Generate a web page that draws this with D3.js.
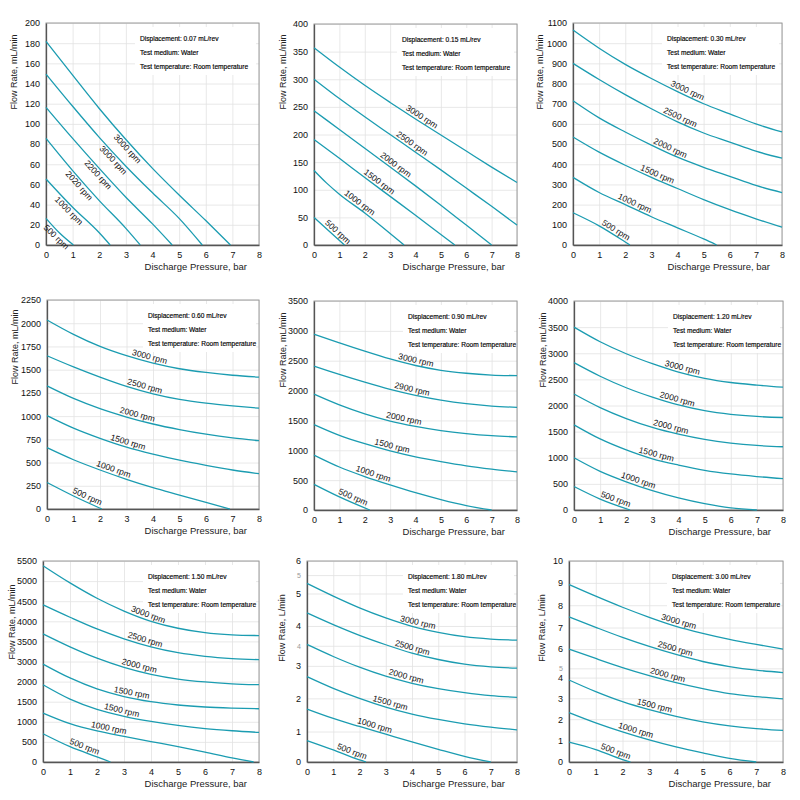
<!DOCTYPE html>
<html>
<head>
<meta charset="utf-8">
<script src="https://cdn.jsdelivr.net/npm/d3@7"></script>
<style>
  body { margin: 0; background: #fff; }
  svg { display: block; font-family: "Liberation Sans", Arial, sans-serif; }
</style>
</head>
<body>
<svg id="chart" width="800" height="800"></svg>
<script>
// pressure axis, shared by all panels
const pressureTicks = [0, 1, 2, 3, 4, 5, 6, 7, 8];
const displacements = ["0.07", "0.15", "0.30", "0.60", "0.90", "1.20", "1.50", "1.80", "3.00"];
const flowUnits = ["mL/min", "mL/min", "mL/min", "mL/min", "mL/min", "mL/min", "mL/min", "L/min", "L/min"];

// 0.07 mL/rev
const rpm1 = ["3000 rpm", "3000 rpm", "2200 rpm", "2020 rpm", "1000 rpm", "500 rpm"];
const flow1 = [
  [[0, 183.5], [1, 153], [2, 123], [3, 95], [4, 69], [5, 45], [6, 22], [6.93, 0]],
  [[0, 154], [1, 125], [2, 97], [3, 71], [4, 47], [5, 24], [5.87, 0]],
  [[0, 124], [1, 96], [2, 69], [3, 43], [4, 19], [4.74, 0]],
  [[0, 96], [1, 67], [2, 40], [3, 15], [3.54, 0]],
  [[0, 59.5], [1, 34], [2, 11], [2.41, 0]],
  [[0, 24], [0.5, 11], [1.03, 0]]
];
const yMax1 = 200;
const yText1 = ["0", "20", "40", "60", "60", "80", "100", "120", "140", "160", "180", "200"];

// 0.15 mL/rev
const rpm2 = ["3000 rpm", "2500 rpm", "2000 rpm", "1500 rpm", "1000 rpm", "500 rpm"];
const flow2 = [
  [[0, 357], [1, 322], [2, 289], [3, 258], [4, 228], [5, 199], [6, 170], [7, 141], [8, 113]],
  [[0, 300], [1, 265], [2, 232], [3, 200], [4, 168], [5, 136], [6, 103], [7, 70], [8, 36]],
  [[0, 243], [1, 209], [2, 175], [3, 141], [4, 107], [5, 72], [6, 36], [7, 0]],
  [[0, 191], [1, 157], [2, 122], [3, 88], [4, 54], [5, 19], [5.55, 0]],
  [[0, 135], [0.5, 112], [1, 92], [2, 58], [3, 21], [3.55, 0]],
  [[0, 50], [0.6, 25], [1.2, 0]]
];
const yMax2 = 400;
const yText2 = ["0", "50", "100", "150", "200", "250", "300", "350", "400"];

// 0.30 mL/rev
const rpm3 = ["3000 rpm", "2500 rpm", "2000 rpm", "1500 rpm", "1000 rpm", "500 rpm"];
const flow3 = [
  [[0, 1065], [1, 975], [2, 895], [3, 825], [4, 760], [5, 700], [6, 650], [7, 600], [8, 560]],
  [[0, 900], [1, 820], [2, 745], [3, 675], [4, 610], [5, 555], [6, 510], [7, 465], [8, 430]],
  [[0, 715], [1, 630], [2, 560], [3, 495], [4, 435], [5, 385], [6, 340], [7, 295], [8, 260]],
  [[0, 535], [1, 460], [2, 395], [3, 335], [4, 280], [5, 225], [6, 175], [7, 130], [8, 88]],
  [[0, 335], [1, 260], [2, 200], [3, 140], [4, 85], [5, 30], [5.5, 0]],
  [[0, 160], [1, 95], [2, 15], [2.18, 0]]
];
const yMax3 = 1100;
const yText3 = ["0", "100", "200", "300", "400", "500", "600", "700", "800", "900", "1000", "1100"];

// 0.60 mL/rev
const rpm4 = ["3000 rpm", "2500 rpm", "2000 rpm", "1500 rpm", "1000 rpm", "500 rpm"];
const flow4 = [
  [[0, 2035], [1, 1880], [2, 1750], [3, 1650], [4, 1570], [5, 1510], [6, 1470], [7, 1440], [8, 1420]],
  [[0, 1650], [1, 1530], [2, 1420], [3, 1320], [4, 1240], [5, 1180], [6, 1140], [7, 1110], [8, 1085]],
  [[0, 1325], [1, 1190], [2, 1080], [3, 990], [4, 915], [5, 855], [6, 805], [7, 765], [8, 735]],
  [[0, 1005], [1, 870], [2, 760], [3, 665], [4, 590], [5, 525], [6, 470], [7, 420], [8, 380]],
  [[0, 660], [1, 530], [2, 420], [3, 320], [4, 230], [5, 150], [6, 70], [6.9, 0]],
  [[0, 285], [1, 140], [2.07, 0]]
];
const yMax4 = 2250;
const yText4 = ["0", "250", "500", "750", "1000", "1250", "1500", "1750", "2000", "2250"];

// 0.90 mL/rev
const rpm5 = ["3000 rpm", "2900 rpm", "2000 rpm", "1500 rpm", "1000 rpm", "500 rpm"];
const flow5 = [
  [[0, 2945], [1, 2800], [2, 2660], [3, 2530], [4, 2420], [5, 2340], [6, 2290], [7, 2260], [8, 2250]],
  [[0, 2410], [1, 2270], [2, 2140], [3, 2020], [4, 1920], [5, 1840], [6, 1780], [7, 1740], [8, 1720]],
  [[0, 1940], [1, 1760], [2, 1610], [3, 1490], [4, 1400], [5, 1330], [6, 1280], [7, 1245], [8, 1225]],
  [[0, 1430], [1, 1250], [2, 1110], [3, 990], [4, 890], [5, 810], [6, 740], [7, 685], [8, 640]],
  [[0, 920], [1, 720], [2, 560], [3, 420], [4, 290], [5, 175], [6, 75], [7, 0]],
  [[0, 430], [1, 220], [2.2, 0]]
];
const yMax5 = 3500;
const yText5 = ["0", "500", "1000", "1500", "2000", "2500", "3000", "3500"];

// 1.20 mL/rev
const rpm6 = ["3000 rpm", "2000 rpm", "2000 rpm", "1500 rpm", "1000 rpm", "500 rpm"];
const flow6 = [
  [[0, 3500], [1, 3220], [2, 2990], [3, 2800], [4, 2640], [5, 2520], [6, 2440], [7, 2390], [8, 2350]],
  [[0, 2820], [1, 2560], [2, 2340], [3, 2160], [4, 2010], [5, 1900], [6, 1830], [7, 1790], [8, 1770]],
  [[0, 2220], [1, 1960], [2, 1750], [3, 1580], [4, 1450], [5, 1350], [6, 1280], [7, 1235], [8, 1210]],
  [[0, 1630], [1, 1360], [2, 1150], [3, 980], [4, 860], [5, 760], [6, 690], [7, 640], [8, 600]],
  [[0, 1000], [1, 740], [2, 540], [3, 370], [4, 230], [5, 120], [6, 40], [7, 0]],
  [[0, 450], [1, 210], [2.15, 0]]
];
const yMax6 = 4000;
const yText6 = ["0", "500", "1000", "1500", "2000", "2500", "3000", "3500", "4000"];

// 1.50 mL/rev
const rpm7 = ["3000 rpm", "2500 rpm", "2000 rpm", "1500 rpm", "1500 rpm", "1000 rpm", "500 rpm"];
const flow7 = [
  [[0, 5370], [1, 4900], [2, 4480], [3, 4130], [4, 3850], [5, 3660], [6, 3540], [7, 3480], [8, 3460]],
  [[0, 4300], [1, 3960], [2, 3640], [3, 3370], [4, 3150], [5, 2990], [6, 2890], [7, 2830], [8, 2800]],
  [[0, 3505], [1, 3150], [2, 2840], [3, 2590], [4, 2400], [5, 2270], [6, 2190], [7, 2140], [8, 2115]],
  [[0, 2680], [1, 2300], [2, 2000], [3, 1790], [4, 1650], [5, 1560], [6, 1505], [7, 1475], [8, 1457]],
  [[0, 2113], [1, 1720], [2, 1440], [3, 1250], [4, 1110], [5, 1000], [6, 915], [7, 855], [8, 810]],
  [[0, 1340], [1, 1050], [2, 850], [3, 700], [4, 560], [5, 420], [6, 270], [7, 110], [7.8, 0]],
  [[0, 774], [1, 420], [2, 140], [2.5, 0]]
];
const yMax7 = 5500;
const yText7 = ["0", "500", "1000", "1500", "2000", "3000", "3500", "4000", "4500", "5000", "5500"];

// 1.80 mL/rev
const rpm8 = ["3000 rpm", "2500 rpm", "2000 rpm", "1500 rpm", "1000 rpm", "500 rpm"];
const flow8 = [
  [[0, 5.33], [1, 4.95], [2, 4.6], [3, 4.3], [4, 4.05], [5, 3.87], [6, 3.74], [7, 3.67], [8, 3.64]],
  [[0, 4.45], [1, 4.1], [2, 3.78], [3, 3.5], [4, 3.25], [5, 3.06], [6, 2.92], [7, 2.84], [8, 2.8]],
  [[0, 3.51], [1, 3.15], [2, 2.83], [3, 2.56], [4, 2.35], [5, 2.19], [6, 2.07], [7, 1.98], [8, 1.93]],
  [[0, 2.55], [1, 2.2], [2, 1.9], [3, 1.64], [4, 1.43], [5, 1.27], [6, 1.14], [7, 1.04], [8, 0.96]],
  [[0, 1.58], [1, 1.3], [2, 1.06], [3, 0.83], [4, 0.6], [5, 0.38], [6, 0.17], [7, 0]],
  [[0, 0.64], [1, 0.36], [2, 0.06], [2.25, 0]]
];
const yMax8 = 6;
const yVals8 = [0, 0.91, 1.9, 2.87, 3.47, 4.06, 5.03, 5.58, 6];
const yText8 = ["0", "1", "2", "3", "4", "4", "5", "5", "6"];
const yFaint8 = [3.47, 5.58];

// 3.00 mL/rev
const rpm9 = ["3000 rpm", "2500 rpm", "2000 rpm", "1500 rpm", "1000 rpm", "500 rpm"];
const flow9 = [
  [[0, 8.83], [1, 8.25], [2, 7.7], [3, 7.2], [4, 6.75], [5, 6.4], [6, 6.1], [7, 5.85], [8, 5.62]],
  [[0, 7.22], [1, 6.7], [2, 6.2], [3, 5.75], [4, 5.35], [5, 5.0], [6, 4.75], [7, 4.57], [8, 4.45]],
  [[0, 5.62], [1, 5.15], [2, 4.7], [3, 4.3], [4, 3.95], [5, 3.65], [6, 3.4], [7, 3.25], [8, 3.14]],
  [[0, 4.08], [1, 3.5], [2, 3.0], [3, 2.6], [4, 2.27], [5, 2.0], [6, 1.8], [7, 1.66], [8, 1.57]],
  [[0, 2.46], [1, 1.95], [2, 1.5], [3, 1.1], [4, 0.75], [5, 0.45], [6, 0.18], [7, 0]],
  [[0, 0.99], [1, 0.62], [2, 0.12], [2.3, 0]]
];
const yMax9 = 10;
const yVals9 = [0, 1.06, 2.13, 3.17, 4.2, 4.66, 5.62, 6.69, 7.8, 8.91, 10];
const yText9 = ["0", "1", "2", "3", "4", "5", "6", "7", "8", "9", "10"];
const yFaint9 = [4.66];

// evenly spaced ticks for the panels that use them
const even = (max, n) => d3.range(n).map(i => i * max / (n - 1));

// layout: plot boxes, title / note positions, where each rpm label sits
const panels = [
  { rpm: rpm1, flow: flow1, yMax: yMax1, yVals: even(yMax1, 12), yText: yText1, faint: [],
    l: 46, r: 259, t: 23, b: 245, tx: 14, ty: 72, ax: 140, below: true, labelX: [3.2, 2.67, 2.1, 1.39, 1.0, 0.52] },
  { rpm: rpm2, flow: flow2, yMax: yMax2, yVals: even(yMax2, 9), yText: yText2, faint: [],
    l: 314, r: 517, t: 24, b: 245, tx: 283, ty: 72, ax: 402, labelX: [4.14, 3.75, 3.1, 2.45, 1.68, 0.8] },
  { rpm: rpm3, flow: flow3, yMax: yMax3, yVals: even(yMax3, 12), yText: yText3, faint: [],
    l: 573, r: 782, t: 23, b: 245, tx: 540, ty: 72, ax: 667, labelX: [4.3, 4.02, 3.64, 3.15, 2.28, 1.54] },
  { rpm: rpm4, flow: flow4, yMax: yMax4, yVals: even(yMax4, 10), yText: yText4, faint: [],
    l: 47, r: 259, t: 300, b: 509, tx: 15, ty: 347, ax: 148, labelX: [3.82, 3.64, 3.36, 3.0, 2.45, 1.44] },
  { rpm: rpm5, flow: flow5, yMax: yMax5, yVals: even(yMax5, 8), yText: yText5, faint: [],
    l: 314, r: 517, t: 301, b: 510, tx: 283, ty: 350, ax: 408, labelX: [3.97, 3.82, 3.5, 3.03, 2.27, 1.46] },
  { rpm: rpm6, flow: flow6, yMax: yMax6, yVals: even(yMax6, 9), yText: yText6, faint: [],
    l: 574, r: 783, t: 301, b: 510, tx: 543, ty: 350, ax: 673, labelX: [4.1, 3.9, 3.66, 3.1, 2.4, 1.53] },
  { rpm: rpm7, flow: flow7, yMax: yMax7, yVals: even(yMax7, 11), yText: yText7, faint: [],
    l: 43, r: 259, t: 561, b: 762, tx: 12, ty: 622, ax: 148, labelX: [3.83, 3.73, 3.52, 3.25, 2.87, 2.4, 1.47] },
  { rpm: rpm8, flow: flow8, yMax: yMax8, yVals: yVals8, yText: yText8, faint: yFaint8,
    l: 307, r: 517, t: 561, b: 762, tx: 282, ty: 628, ax: 408, labelX: [4.18, 3.96, 3.73, 3.12, 2.52, 1.64] },
  { rpm: rpm9, flow: flow9, yMax: yMax9, yVals: yVals9, yText: yText9, faint: yFaint9,
    l: 569, r: 783, t: 561, b: 762, tx: 542, ty: 628, ax: 672, labelX: [4.05, 3.92, 3.64, 3.15, 2.44, 1.68] }
];

const lineColor = "#1b9cb1";
const svg = d3.select("#chart");

// linear read of a curve, used to place and tilt the rpm labels
function valueAt(pts, x) {
  for (let i = 1; i < pts.length; i++) {
    if (x <= pts[i][0]) {
      const [x0, y0] = pts[i - 1], [x1, y1] = pts[i];
      return y0 + (y1 - y0) * (x - x0) / (x1 - x0);
    }
  }
  return pts[pts.length - 1][1];
}

panels.forEach((p, k) => {
  const x = d3.scaleLinear().domain([0, 8]).range([p.l, p.r]);
  const y = d3.scaleLinear().domain([0, p.yMax]).range([p.b, p.t]);
  const g = svg.append("g");

  // grid
  g.append("g")
    .attr("transform", `translate(0,${p.b})`)
    .call(d3.axisBottom(x).tickValues(pressureTicks).tickSize(-(p.b - p.t)).tickFormat(""))
    .call(a => a.select(".domain").remove())
    .selectAll("line").attr("stroke", "#e2e2e2").attr("stroke-width", 0.8);
  g.append("g")
    .attr("transform", `translate(${p.l},0)`)
    .call(d3.axisLeft(y).tickValues(p.yVals).tickSize(-(p.r - p.l)).tickFormat(""))
    .call(a => a.select(".domain").remove())
    .selectAll("line").attr("stroke", "#e2e2e2").attr("stroke-width", 0.8);

  // note box
  g.append("rect")
    .attr("x", p.ax - 5).attr("y", p.t + 4)
    .attr("width", p.r - p.ax + 2).attr("height", 48)
    .attr("fill", "#fff");
  const notes = [`Displacement: ${displacements[k]} mL/rev`, "Test medium: Water", "Test temperature: Room temperature"];
  g.selectAll("text.note")
    .data(notes)
    .enter().append("text")
    .attr("class", "note")
    .attr("x", p.ax)
    .attr("y", (d, i) => p.t + 17.5 + i * 14)
    .attr("font-size", "6.6px")
    .attr("fill", "#000")
    .attr("stroke", "#000")
    .attr("stroke-width", 0.15)
    .text(d => d);

  // frame
  g.append("rect")
    .attr("x", p.l).attr("y", p.t)
    .attr("width", p.r - p.l).attr("height", p.b - p.t)
    .attr("fill", "none").attr("stroke", "#9a9a9a").attr("stroke-width", 1);

  // axes
  const xAxis = g.append("g")
    .attr("transform", `translate(0,${p.b})`)
    .call(d3.axisBottom(x).tickValues(pressureTicks).tickSize(0).tickPadding(7).tickFormat(d3.format("d")));
  const yAxis = g.append("g")
    .attr("transform", `translate(${p.l},0)`)
    .call(d3.axisLeft(y).tickValues(p.yVals).tickSize(0).tickPadding(6).tickFormat((d, i) => p.yText[i]));
  [xAxis, yAxis].forEach(a => {
    a.select(".domain").attr("stroke", "#555").attr("stroke-width", 1.3);
    a.selectAll("text")
      .attr("font-size", "9px")
      .attr("font-family", "'Liberation Sans', Arial, sans-serif")
      .attr("fill", "#111");
  });
  yAxis.selectAll(".tick text")
    .filter(d => p.faint.includes(d))
    .attr("fill", "#999").attr("font-size", "7px");

  // titles
  g.append("text")
    .attr("x", p.r - 12).attr("y", p.b + 25)
    .attr("text-anchor", "end")
    .attr("font-size", "9.5px")
    .attr("fill", "#222")
    .text("Discharge Pressure, bar");
  g.append("text")
    .attr("transform", `translate(${p.tx + 3},${p.ty}) rotate(-90)`)
    .attr("text-anchor", "middle")
    .attr("font-size", "9px")
    .attr("fill", "#222")
    .text(`Flow Rate, ${flowUnits[k]}`);

  // curves
  const line = d3.line()
    .x(d => x(d[0]))
    .y(d => y(d[1]))
    .curve(d3.curveMonotoneX);
  g.selectAll("path.curve")
    .data(p.flow)
    .enter().append("path")
    .attr("class", "curve")
    .attr("d", line)
    .attr("fill", "none")
    .attr("stroke", lineColor)
    .attr("stroke-width", 1.3);

  // rpm labels along the curves
  p.flow.forEach((pts, i) => {
    const lx = p.labelX[i];
    const a = Math.max(0, lx - 0.2), b = lx + 0.2;
    const ang = Math.atan2(y(valueAt(pts, b)) - y(valueAt(pts, a)), x(b) - x(a)) * 180 / Math.PI;
    g.append("text")
      .attr("transform", `translate(${x(lx)},${y(valueAt(pts, lx))}) rotate(${ang})`)
      .attr("text-anchor", "middle")
      .attr("dy", p.below ? 8 : -2.5)
      .attr("font-size", "8.5px")
      .attr("fill", "#111")
      .text(p.rpm[i]);
  });
});
</script>
</body>
</html>
